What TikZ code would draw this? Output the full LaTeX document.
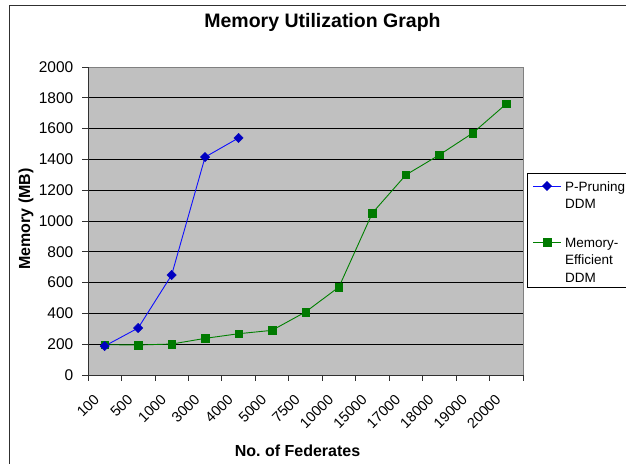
\documentclass[tikz,border=0pt]{standalone}
\usepackage{fontspec}
\setmainfont{Liberation Sans}
\usetikzlibrary{shapes.geometric}
\definecolor{plotbg}{HTML}{C0C0C0}
\definecolor{plotframe}{HTML}{808080}
\definecolor{frameouter}{HTML}{303030}
\definecolor{serblue}{HTML}{1010FF}
\definecolor{markblue}{HTML}{0000C0}
\definecolor{sergreen}{HTML}{008000}
\definecolor{markgreen}{HTML}{007A00}
\tikzset{
  ticklab/.style={font=\fontsize{15.5}{18}\selectfont, inner sep=0pt},
  xticklab/.style={font=\fontsize{14.5}{17}\selectfont, inner sep=0pt},
  leglab/.style={font=\fontsize{13.5}{16}\selectfont, inner sep=0pt, anchor=base west},
  axtitle/.style={font=\bfseries\fontsize{16}{19}\selectfont, inner sep=0pt},
  blueline/.style={serblue, line width=0.9pt},
  greenline/.style={sergreen, line width=0.9pt},
  bmark/.style={diamond, fill=markblue, draw=markblue, inner sep=0pt, minimum width=9.5pt, minimum height=9.5pt},
  gmark/.style={rectangle, fill=markgreen, draw=markgreen, inner sep=0pt, minimum size=7.5pt},
  gridl/.style={black, line width=0.8pt},
}
\begin{document}
\begin{tikzpicture}[x=1pt,y=-1pt]
\useasboundingbox (0,0) rectangle (626,463);
\clip (0,0) rectangle (626,463);
% outer chart frame
\draw[frameouter, line width=1.3pt] (9.5,5.5) rectangle (660,490);
% title
\node[font=\bfseries\fontsize{19.5}{23}\selectfont, inner sep=0pt] (title) at (322.5,22.5) {Memory Utilization Graph};
% plot area
\fill[plotbg] (88,67) rectangle (523,375);
\foreach \v in {200,400,...,1800} {
  \draw[gridl] (88,{375-0.154*\v}) -- (523,{375-0.154*\v});
}
\draw[plotframe, line width=1pt] (88,67) -- (523,67) -- (523,375);
% axes
\draw[frameouter, line width=1pt] (88,67) -- (88,375) -- (523,375);
% y ticks and labels
\foreach \v in {0,200,...,2000} {
  \draw[frameouter, line width=0.8pt] (82,{375-0.154*\v}) -- (88,{375-0.154*\v});
  \node[ticklab, anchor=east] (y\v) at (73.5,{375-0.154*\v}) {\v};
}
% x ticks
\foreach \k in {0,...,13} {
  \draw[frameouter, line width=0.8pt] ({88+33.46*\k},375) -- ({88+33.46*\k},381);
}
% x labels
\foreach \t [count=\i from 0] in {100,500,1000,3000,4000,5000,7500,10000,15000,17000,18000,19000,20000} {
  \node[xticklab, anchor=east, rotate=45] (x\i) at ({104.7+33.46*\i-8},397) {\t};
}
% axis titles
\node[axtitle] (xtitle) at (297.5,450.5) {No.\ of Federates};
\node[axtitle, rotate=90] (ytitle) at (26,219) {Memory (MB)};
% data: P-Pruning
\foreach \v [count=\i from 0] in {188,305,649,1415,1539} {
  \coordinate (b\i) at ({104.7+33.46*\i},{375-0.154*\v});
}
% data: Memory-Efficient
\foreach \v [count=\i from 0] in {197,195,201,238,268,290,409,571,1052,1299,1429,1571,1760} {
  \coordinate (g\i) at ({104.7+33.46*\i},{375-0.154*\v});
}
\draw[greenline] (g0) -- (g1) -- (g2) -- (g3) -- (g4) -- (g5) -- (g6) -- (g7) -- (g8) -- (g9) -- (g10) -- (g11) -- (g12);
\draw[blueline] (b0) -- (b1) -- (b2) -- (b3) -- (b4);
\foreach \i in {0,...,12} { \node[gmark] (gm\i) at (g\i) {}; }
\foreach \i in {0,...,4} { \node[bmark] (bm\i) at (b\i) {}; }
% legend
\draw[black, line width=0.8pt, fill=white] (527,173) rectangle (680,287);
\coordinate (lb1) at (533,186);
\coordinate (lb2) at (561,186);
\draw[blueline] (lb1) -- (lb2);
\node[bmark] (lbm) at (547,186) {};
\node[leglab] (lt1) at (565,191) {P-Pruning};
\node[leglab] (lt2) at (565,208) {DDM};
\coordinate (lg1) at (533,242);
\coordinate (lg2) at (561,242);
\draw[greenline] (lg1) -- (lg2);
\node[gmark] (lgm) at (547,242) {};
\node[leglab] (lt3) at (565,247) {Memory-};
\node[leglab] (lt4) at (565,264.5) {Efficient};
\node[leglab] (lt5) at (565,282) {DDM};
\end{tikzpicture}
\end{document}
